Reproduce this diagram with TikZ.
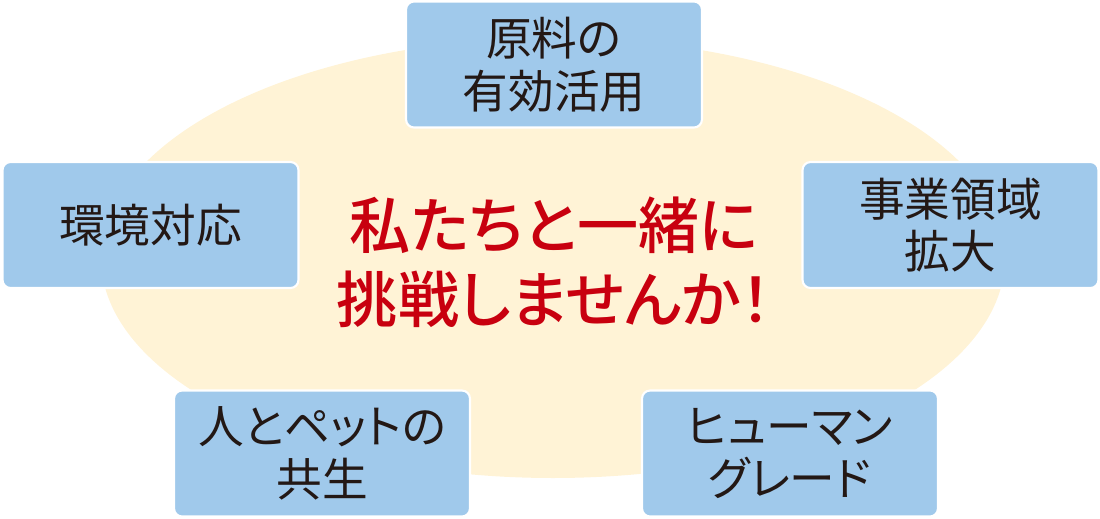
\documentclass[tikz,border=0pt]{standalone}
\usepackage{fontspec}
\newfontfamily\jpfont[RawFeature=+palt]{Noto Sans CJK JP}
\newfontfamily\jpmedium[RawFeature=+palt]{Noto Sans CJK JP Medium}
\definecolor{creamfill}{HTML}{FFF3D6}
\definecolor{topicblue}{HTML}{A0C9EB}
\definecolor{topictext}{HTML}{231815}
\definecolor{callred}{HTML}{C8000F}
\tikzset{
	topic/.style={draw=white, line width=1.2pt, fill=topicblue, rounded corners=0.16cm,
		minimum width=5.92cm, minimum height=2.52cm, align=center, text=topictext,
		font=\jpfont\fontsize{26}{30}\selectfont},
	callout/.style={align=center, text=callred,
		font=\jpmedium\fontsize{34.8}{42}\selectfont}
}

\begin{document}
\begin{tikzpicture}[x=0.02cm, y=-0.02cm]
	%%%%% START %%%%%
	
	\useasboundingbox (0, 0) rectangle (1100, 518);
	
	\fill[creamfill] (553, 258) ellipse [x radius=452, y radius=220];
	
	\node[callout] (call) at (554, 262) {私たちと一緒に\\挑戦しませんか！};
	
	\node[topic] (raw) at (554, 64.5) {原料の\\有効活用};
	\node[topic] (env) at (150.5, 225) {環境対応};
	\node[topic] (biz) at (950.5, 225) {事業領域\\拡大};
	\node[topic] (pet) at (322, 453.5) {人とペットの\\共生};
	\node[topic] (human) at (790, 453.5) {ヒューマン\\グレード};
	
	%%%%% END %%%%%
\end{tikzpicture}
\end{document}
